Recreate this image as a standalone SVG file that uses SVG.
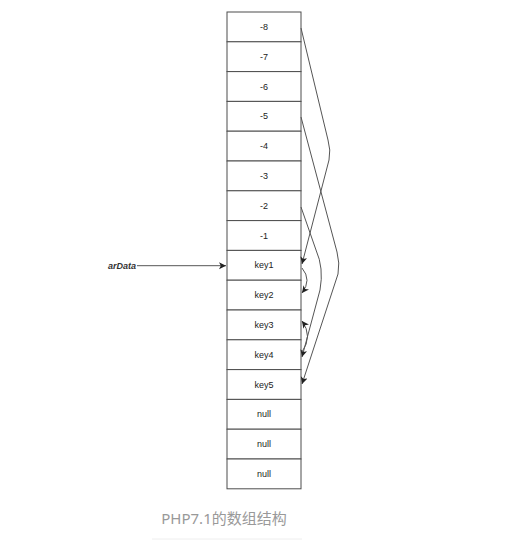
<svg xmlns="http://www.w3.org/2000/svg" width="521" height="555" viewBox="0 0 521 555">
<defs>
<style>
.cell rect{fill:#ffffff;stroke:#4d4d4d;stroke-width:1}
.cell text{font-family:"Liberation Sans",Arial,sans-serif;font-size:9px;fill:#222;text-anchor:middle;dominant-baseline:central}
.conn path{fill:none;stroke:#555;stroke-width:1}
.lbl{font-family:"Liberation Sans",Arial,sans-serif;font-size:9px;font-weight:bold;font-style:italic;fill:#333}
.cap{font-family:"Noto Sans","Noto Sans CJK SC",sans-serif;font-size:15px;fill:#999;text-anchor:middle}
</style>
<marker id="arr" markerUnits="userSpaceOnUse" markerWidth="8" markerHeight="8" refX="7" refY="3.5" orient="auto">
<path d="M0,0 L7,3.5 L0,7 L1.8,3.5 z" fill="#222"/>
</marker>
</defs>
<rect width="521" height="555" fill="#ffffff"/>
<g id="n-8" class="cell"><rect x="227" y="12" width="74" height="29.8"/><text x="264" y="26.9">-8</text></g>
<g id="n-7" class="cell"><rect x="227" y="41.8" width="74" height="29.8"/><text x="264" y="56.7">-7</text></g>
<g id="n-6" class="cell"><rect x="227" y="71.6" width="74" height="29.8"/><text x="264" y="86.5">-6</text></g>
<g id="n-5" class="cell"><rect x="227" y="101.4" width="74" height="29.8"/><text x="264" y="116.3">-5</text></g>
<g id="n-4" class="cell"><rect x="227" y="131.2" width="74" height="29.8"/><text x="264" y="146.1">-4</text></g>
<g id="n-3" class="cell"><rect x="227" y="161" width="74" height="29.8"/><text x="264" y="175.9">-3</text></g>
<g id="n-2" class="cell"><rect x="227" y="190.8" width="74" height="29.8"/><text x="264" y="205.7">-2</text></g>
<g id="n-1" class="cell"><rect x="227" y="220.6" width="74" height="29.8"/><text x="264" y="235.5">-1</text></g>
<g id="key1" class="cell"><rect x="227" y="250.4" width="74" height="29.8"/><text x="264" y="265.3">key1</text></g>
<g id="key2" class="cell"><rect x="227" y="280.2" width="74" height="29.8"/><text x="264" y="295.1">key2</text></g>
<g id="key3" class="cell"><rect x="227" y="310" width="74" height="29.8"/><text x="264" y="324.9">key3</text></g>
<g id="key4" class="cell"><rect x="227" y="339.8" width="74" height="29.8"/><text x="264" y="354.7">key4</text></g>
<g id="key5" class="cell"><rect x="227" y="369.6" width="74" height="29.8"/><text x="264" y="384.5">key5</text></g>
<g id="null1" class="cell"><rect x="227" y="399.4" width="74" height="29.8"/><text x="264" y="414.3">null</text></g>
<g id="null2" class="cell"><rect x="227" y="429.2" width="74" height="29.8"/><text x="264" y="444.1">null</text></g>
<g id="null3" class="cell"><rect x="227" y="459" width="74" height="29.8"/><text x="264" y="473.9">null</text></g>
<g id="arData"><text class="lbl" x="108" y="268.5">arData</text></g>
<g id="connectors" class="conn">
<path d="M137,265.7 L226,265.7" marker-end="url(#arr)"/>
<path d="M301,28 L328,140 Q331,150 329,160 L302,264" marker-end="url(#arr)"/>
<path d="M301,117 L337,252 Q340,263 338,274 L302,384" marker-end="url(#arr)"/>
<path d="M301,207 L316,250 Q324,268 320,290 L302,357" marker-end="url(#arr)"/>
<path d="M302,268 Q312,280 302,293" marker-end="url(#arr)"/>
<path d="M302,352 Q313,336 302,321" marker-end="url(#arr)"/>
</g>
<text class="cap" x="224" y="524">PHP7.1的数组结构</text>
<line x1="152" y1="539" x2="302" y2="539" stroke="#eeeeee" stroke-width="1"/>
</svg>
